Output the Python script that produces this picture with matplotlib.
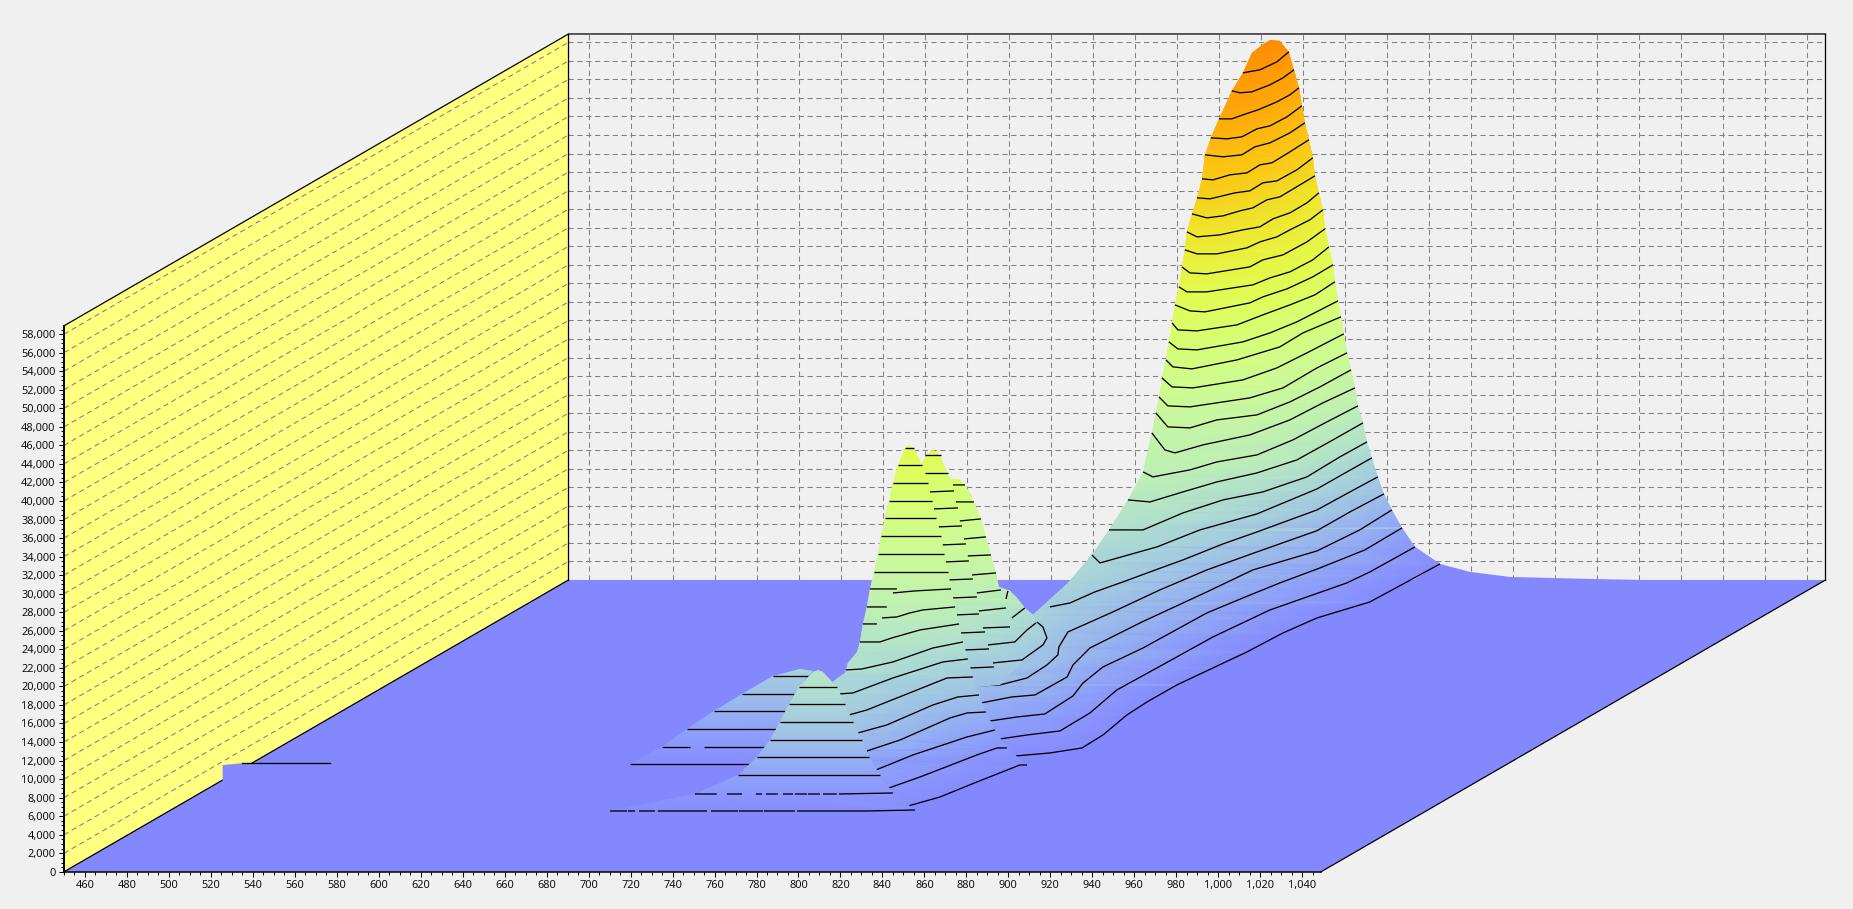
import numpy as np
import matplotlib
matplotlib.use("Agg")
import matplotlib.pyplot as plt
import matplotlib.tri as mtri
from matplotlib.colors import LinearSegmentedColormap
from matplotlib.path import Path
from matplotlib.ticker import MultipleLocator, StrMethodFormatter

nan = np.nan

x_min, x_max = 450, 1049
y_max = 58900
# how far the back of the box is shifted from the front, in axis units
depth_x = 240.4
depth_y = 31480

# colours along the contour number
stop_levels = [0, 1, 3, 5, 7, 8, 10, 13, 16, 19, 22, 25, 28, 31]
stop_colors = ["#8488ff", "#878cff", "#8fa3fa", "#9ec0e8", "#aad7d7", "#b2e1cd", "#bef0b4",
               "#cdfa96", "#d7ff73", "#e4fa4b", "#f0e62d", "#fac814", "#ffaa0a", "#ff8c00"]

# step on the floor edge
step_wave = [525.6, 525.6, 528.6, 534.7, 541.0, 541.0]
step_height = [9720, 11522, 11578, 11708, 11708, 9720]
step_line_wave = [534.7, 576.7]
step_line_height = [11708, 11708]

# flat tail right of the big ridge
tail_wave = [1105.7, 1120.0, 1139.0, 1177.1, 1200.5, 1077.1]
tail_height = [33212, 32349, 31810, 31594, 31487, 29327]

# big ridge at the back, contours 1 to 30
ridge_levels = list(range(1, 31))
ridge_waves = [
    [903.2, 919.8, 935.1, 945.1, 956.5, 966.1, 980.3, 997.5, 1013.7, 1030.9, 1047.1, 1072.3, 1096.1, 1105.7],
    [896.0, 908.9, 924.6, 938.9, 951.7, 970.8, 997.5, 1024.7, 1061.3, 1072.3, 1093.8],
    [891.2, 904.1, 917.4, 930.8, 935.6, 945.1, 964.2, 994.6, 1011.8, 1029.4, 1048.5, 1069.9, 1087.6],
    [887.0, 901.7, 912.7, 928.0, 930.8, 938.9, 963.7, 994.6, 1016.5, 1047.1, 1067.5, 1082.8],
    [884.1, 896.0, 908.9, 918.4, 923.6, 924.1, 928.4, 949.8, 972.2, 994.6, 1018.5, 1047.1, 1062.8, 1079.0],
    [919.8, 929.4, 941.2, 954.6, 967.5, 983.2, 1002.3, 1018.5, 1047.1, 1062.8, 1076.1],
    [939.8, 943.7, 970.8, 991.3, 1018.5, 1047.1, 1058.0, 1073.2],
    [948.0, 964.2, 983.2, 1002.3, 1021.3, 1042.3, 1058.0, 1070.9],
    [957.0, 967.5, 983.2, 999.4, 1018.5, 1037.5, 1054.7, 1069.0],
    [964.2, 968.9, 986.5, 999.4, 1018.5, 1035.6, 1051.8, 1066.6],
    [968.4, 974.6, 979.4, 992.7, 1015.1, 1034.2, 1049.9, 1065.2],
    [970.3, 976.0, 986.5, 999.4, 1018.5, 1034.2, 1048.5, 1063.3],
    [971.8, 976.0, 986.5, 1015.1, 1030.9, 1047.1, 1061.4],
    [973.2, 978.0, 988.0, 1011.8, 1028.0, 1042.3, 1059.9],
    [975.1, 978.4, 987.5, 1009.0, 1029.4, 1040.4, 1058.5],
    [976.5, 980.8, 989.9, 1011.8, 1024.7, 1037.5, 1057.1],
    [978.0, 980.8, 989.9, 1009.0, 1021.3, 1034.2, 1046.1, 1055.6],
    [979.4, 986.5, 993.7, 1015.1, 1021.3, 1032.8, 1045.1, 1054.7],
    [981.3, 985.1, 994.6, 1016.5, 1024.7, 1034.2, 1045.1, 1052.8],
    [982.7, 986.5, 994.6, 1015.1, 1021.3, 1030.9, 1042.3, 1050.9],
    [984.1, 989.9, 999.4, 1013.7, 1019.9, 1028.0, 1034.2, 1043.7, 1049.9],
    [985.1, 989.9, 1000.8, 1011.8, 1019.9, 1026.1, 1034.2, 1042.3, 1048.0],
    [987.5, 994.6, 1002.3, 1010.4, 1016.5, 1023.2, 1029.4, 1039.0, 1046.1],
    [989.9, 996.1, 1008.0, 1015.1, 1021.3, 1028.0, 1037.5, 1045.1],
    [992.3, 997.5, 1005.6, 1013.7, 1019.9, 1025.6, 1034.2, 1043.2],
    [993.7, 1002.3, 1011.3, 1017.5, 1024.7, 1034.2, 1041.3],
    [996.5, 1004.2, 1011.3, 1018.5, 1024.7, 1032.8, 1039.9],
    [1000.4, 1006.5, 1011.8, 1019.0, 1028.0, 1034.2, 1038.5],
    [1006.5, 1010.4, 1016.1, 1024.7, 1030.9, 1036.1],
    [1011.8, 1019.9, 1028.0, 1033.7],
]
ridge_heights = [
    [12495, 12819, 13358, 14761, 16919, 18322, 20156, 21990, 23717, 25767, 27386, 29112, 32025, 33212],
    [14330, 14761, 15192, 17134, 19616, 21990, 25335, 28248, 31162, 32349, 35046],
    [16271, 16702, 17026, 18968, 20371, 22097, 24147, 27924, 29543, 31162, 32780, 34722, 37096],
    [18214, 18861, 19076, 21018, 22313, 24147, 26953, 30190, 32564, 34615, 36881, 39039],
    [20046, 20154, 20910, 22313, 23392, 24255, 25873, 28032, 30406, 32564, 34507, 36801, 38823, 40765],
    [28571, 29003, 30190, 31269, 32349, 33643, 35370, 36663, 39039, 40981, 42602],
    [34183, 33320, 35046, 36881, 38608, 41304, 42707, 44649],
    [36881, 36881, 38713, 40117, 40981, 42602, 44757, 46376],
    [40117, 39900, 40981, 42060, 43030, 44430, 46590, 48425],
    [43138, 42602, 43354, 44217, 44972, 46590, 48533, 50260],
    [47346, 45512, 45190, 46050, 47130, 48750, 50585, 52202],
    [49505, 47994, 47886, 48750, 49289, 50692, 52310, 54145],
    [51230, 50260, 50152, 51122, 52202, 54360, 55980],
    [53280, 52310, 52202, 53065, 54360, 55980, 58030],
    [55223, 54468, 54252, 55223, 56625, 58136, 59863],
    [57165, 56410, 56302, 57165, 58136, 59323, 61590],
    [59216, 58460, 58352, 59000, 60078, 61157, 62236, 63640],
    [61157, 60510, 60402, 61373, 62020, 62884, 64178, 65473],
    [63100, 62560, 62560, 63315, 64070, 64720, 66013, 67416],
    [65258, 64610, 64502, 65258, 66013, 66552, 67955, 69358],
    [67092, 66660, 66660, 67308, 67955, 68495, 69250, 70330, 71408],
    [69034, 68495, 68710, 69250, 69574, 70437, 71085, 72163, 73242],
    [70976, 70545, 70760, 71300, 71624, 72487, 72810, 74105, 75077],
    [72703, 72595, 73242, 73458, 74322, 74537, 75725, 77018],
    [74753, 74645, 75185, 75400, 76263, 76479, 77666, 78961],
    [77342, 77127, 77342, 78206, 78637, 79716, 80795],
    [79177, 79069, 79285, 80148, 80472, 81443, 82630],
    [81227, 81227, 81658, 82198, 83061, 83816, 84572],
    [84248, 84032, 84140, 84896, 85651, 86514],
    [86190, 86514, 87377, 88456],
]
# rounded top, right to left
ridge_top_wave = [1029.4, 1024.7, 1020.9, 1016.1]
ridge_top_height = [89643, 89751, 89211, 88348]
ridge_top_level = [31, 31, 31, 30.5]
# valley beside the ridge, then down behind the body
ridge_valley_wave = [928.4, 911.7, 867.4, 876.9]
ridge_valley_height = [31162, 27709, 20695, 14220]
ridge_valley_level = [7, 6.8, 6, 2]

# peaks behind the tall one, pieces split by nan
mid_levels = [18, 17, 16, 15, 14, 13, 12, 11, 10, 9, 8, 7, 6]
mid_waves = [
    [860.3, 867.9],
    [860.3, 871.2],
    [862.6, 874.1, nan, 873.6, 879.3],
    [864.5, 876.0, nan, 875.0, 883.6],
    [866.5, 877.9, nan, 876.9, 886.9],
    [868.4, 879.8, nan, 878.9, 889.3],
    [869.8, 881.2, nan, 880.7, 891.7],
    [871.7, 883.1, nan, 882.7, 894.1],
    [873.1, 885.0, nan, 885.0, 896.5, nan, 898.9, 899.8],
    [875.0, 886.0, nan, 886.0, 898.9],
    [877.4, 888.9, nan, 887.9, 900.8, nan, 901.7, 907.9],
    [879.3, 890.8, nan, 890.3, 903.1, 908.9, 913.2],
    [881.7, 893.1, nan, 892.7, 906.5, 916.5, 918.4, 916.5, 913.6],
]
mid_heights = [
    [44973, 44973],
    [43030, 43030],
    [40981, 41089, 41089, 41735, 41735],
    [39146, 39254, 39254, 39900, 39900],
    [37203, 37311, 37311, 37850, 38066],
    [35261, 35370, 35370, 35909, 36125],
    [33427, 33535, 33535, 34074, 34183],
    [31485, 31593, 31593, 32024, 32240],
    [29542, 29651, 29651, 30082, 30406, 30406, 29435, 30298],
    [27709, 27817, 27817, 28140, 28464],
    [25767, 25875, 25875, 26306, 26414, 26414, 27385, 28464],
    [23932, 24040, 24040, 24472, 24795, 26090, 26845],
    [21989, 22097, 22097, 22530, 22853, 24472, 25227, 26414, 26953],
]
mid_edge_wave = [858.8, 861.2, 864.1, 866.0, 867.9, 869.8, 872.2, 874.6, 876.9, 879.3, 881.7, 883.6,
                 886.9, 889.3, 891.7, 894.1, 895.5, 900.8, 904.1, 907.9, 911.7, 913.6, 918.9, 918.9,
                 906.5, 896.0, 872.2, 848.4]
mid_edge_height = [44109, 44973, 45512, 45296, 44649, 43570, 42383, 42383, 42275, 41735, 40872, 39900,
                   38066, 36125, 34183, 32240, 30729, 30298, 29542, 28464, 27709, 26953, 25443, 24795,
                   22637, 20154, 19616, 29327]
mid_edge_level = [17.5, 18.5, 19, 18.7, 18, 17, 16.6, 17, 17, 16, 15.5, 15,
                  14, 13, 12, 11, 10, 9.5, 9, 8, 7.5, 7, 6.5, 6,
                  6, 5, 5, 10]

# tall peak and the slope in front of it
body_levels = list(range(1, 20))
body_waves = [
    [852.2, 867.4, 885.0, 905.5, 908.9],
    [843.1, 857.9, 885.0, 894.6, 899.3],
    [836.9, 854.5, 880.3, 893.6],
    [832.6, 848.4, 872.2, 880.3, 889.3],
    [828.3, 842.1, 864.1, 876.0, 886.0],
    [824.0, 832.6, 856.5, 870.8, 883.1],
    [819.3, 825.9, 845.0, 868.8, 880.7],
    [822.6, 830.2, 845.0, 864.1, 878.4],
    [830.7, 837.4, nan, 829.3, 838.8, 844.5, 857.9, 876.5],
    [832.6, 842.1, nan, 839.8, 846.9, 853.1, 859.3, 874.6],
    [834.1, 846.9, nan, 845.0, 855.5, 872.7],
    [836.0, 871.2],
    [837.9, 869.3],
    [839.3, 867.9],
    [841.2, 865.5],
    [843.1, 863.6],
    [845.0, 861.7],
    [847.4, 858.8],
    [850.7, 855.0],
]
body_heights = [
    [7096, 8069, 9689, 11523, 11523],
    [9041, 10227, 12603, 13358, 13358],
    [10983, 12603, 14545, 15300],
    [13033, 14220, 16595, 17134, 17242],
    [14976, 15840, 18000, 18861, 19076],
    [16919, 17458, 19616, 20910, 21018],
    [19185, 19292, 20910, 22637, 22961],
    [21774, 21882, 22637, 24147, 24795],
    [26737, 26737, 26737, 24795, 24795, 25227, 26090, 26737],
    [28571, 28571, 28571, 27385, 27493, 27925, 28248, 28571],
    [30514, 30514, 30514, 30082, 30298, 30514],
    [32349, 32349],
    [34290, 34290],
    [36231, 36231],
    [38173, 38173],
    [40009, 40009],
    [41952, 41952],
    [43893, 43893],
    [45728, 45728],
]
body_top_wave = [852.6]
body_top_height = [45943]
body_top_level = [19.6]
# left side below contour 9, down to the hidden part
body_left_wave = [829.3, 827.9, 823.6, 822.2, 818.8, 816.4, 819.8]
body_left_height = [24795, 23716, 22530, 21450, 20910, 20478, 12063]
body_left_level = [8.5, 8, 8, 7.5, 7, 7, 3]

# small peak at the front
front_levels = list(range(1, 9))
front_waves = [
    [710.2, 718.3, nan, 718.7, 722.1, nan, 724.0, 731.6, nan, 733.0, 756.4, nan, 758.3, 771.2, nan,
     771.6, 783.1, nan, 783.5, 798.3, nan, 799.3, 832.6, 855.5],
    [750.7, 761.1, nan, 765.9, 773.1, nan, 779.7, 782.6, nan, 784.5, 790.2, nan, 792.6, 797.4, nan,
     798.3, 804.0, nan, 804.5, 810.2, nan, 811.7, 818.3, nan, 819.3, 845.0],
    [771.2, 838.8],
    [780.2, 833.6],
    [786.4, 830.2],
    [791.2, 825.9],
    [795.5, 822.1],
    [800.2, 818.3],
]
front_heights = [
    [6560] * 23 + [6668],
    [8394] * 25 + [8502],
    [10445, 10445],
    [12387, 12387],
    [14220, 14220],
    [16163, 16163],
    [18105, 18105],
    [19939, 19939],
]
front_top_wave = [811.7, 809.3, 806.9]
front_top_height = [21558, 21774, 21558]
front_top_level = [8.7, 9, 8.7]

# wide shoulder left of the small peak
shoulder_levels = list(range(1, 7))
shoulder_waves = [
    [719.7, 777.4],
    [734.9, 748.3, nan, 754.9, 784.5],
    [746.9, 789.7],
    [759.7, 794.0],
    [773.1, 797.8],
    [787.8, 804.5],
]
shoulder_heights = [
    [11631, 11631],
    [13467, 13467, 13467, 13467, 13467],
    [15409, 15409],
    [17346, 17346],
    [19185, 19185],
    [21128, 21128],
]
shoulder_top_wave = [806.9, 800.7]
shoulder_top_height = [21666, 21882]
shoulder_top_level = [7, 7]


def draw_layer(edge_w, edge_h, edge_l, waves, heights, levels, z):
    # node values come from the contours and the edge, then a smooth fill clipped to the edge
    nw = list(edge_w)
    nh = list(edge_h)
    nl = list(edge_l)
    for w, h, lev in zip(waves, heights, levels):
        for a, b in zip(w, h):
            if not np.isnan(a):
                nw.append(a)
                nh.append(b)
                nl.append(lev)
    pts = np.column_stack([nw, nh])
    _, idx = np.unique(pts, axis=0, return_index=True)
    idx = np.sort(idx)
    tri = mtri.Triangulation(pts[idx, 0], pts[idx, 1])
    coll = ax.tripcolor(tri, np.array(nl)[idx], shading="gouraud", cmap=level_cmap,
                        vmin=0, vmax=31, zorder=z)
    verts = np.column_stack([edge_w + edge_w[:1], edge_h + edge_h[:1]])
    coll.set_clip_path(Path(verts), ax.transData)
    coll.set_clip_box(fig.bbox)
    for w, h in zip(waves, heights):
        ax.plot(w, h, color="black", lw=0.95, zorder=z + 0.5, clip_on=False,
                solid_capstyle="butt")


def peak_edge(waves, heights, levels, top_w, top_h, top_l):
    # lowest contour, right ends upward, top, left ends downward
    ew = list(waves[0])
    eh = list(heights[0])
    el = [levels[0]] * len(ew)
    for w, h, lev in zip(waves[1:], heights[1:], levels[1:]):
        ew.append(w[-1])
        eh.append(h[-1])
        el.append(lev)
    ew += top_w
    eh += top_h
    el += top_l
    for w, h, lev in zip(waves[:0:-1], heights[:0:-1], levels[:0:-1]):
        ew.append(w[0])
        eh.append(h[0])
        el.append(lev)
    return ew, eh, el


plt.rcParams["font.family"] = ["Noto Sans", "DejaVu Sans"]
level_cmap = LinearSegmentedColormap.from_list(
    "levels", [(s / 31, c) for s, c in zip(stop_levels, stop_colors)])

fig = plt.figure(figsize=(18.53, 9.09), dpi=100, facecolor="#f0f0f0")
ax = fig.add_axes([64 / 1853, 37.2 / 909, 1257 / 1853, 546.0 / 909])
ax.set_xlim(x_min, x_max)
ax.set_ylim(0, y_max)
ax.patch.set_visible(False)

floor_color = "#8488ff"
wall_color = "#ffff80"
grid = dict(color="#808080", lw=0.75, ls=(0, (5, 3.5)), clip_on=False)
edge = dict(color="black", lw=0.9, clip_on=False)

y_ticks = np.arange(0, 58001, 2000)
x_ticks = np.arange(460, 1041, 20)

# back wall grid
for v in y_ticks[1:]:
    ax.plot([x_min + depth_x, x_max + depth_x], [v + depth_y, v + depth_y], zorder=1, **grid)
for t in x_ticks:
    ax.plot([t + depth_x, t + depth_x], [depth_y, y_max + depth_y], zorder=1, **grid)

# left wall and floor
ax.fill([x_min, x_min + depth_x, x_min + depth_x, x_min],
        [0, depth_y, y_max + depth_y, y_max], color=wall_color, lw=0, zorder=1.5, clip_on=False)
for v in y_ticks[1:]:
    ax.plot([x_min, x_min + depth_x], [v, v + depth_y], zorder=1.6, **grid)
ax.fill([x_min, x_max, x_max + depth_x, x_min + depth_x], [0, 0, depth_y, depth_y],
        color=floor_color, lw=0, zorder=2, clip_on=False)

# box outline
ax.plot([x_min, x_min + depth_x], [0, depth_y], zorder=2.2, **edge)
ax.plot([x_max, x_max + depth_x], [0, depth_y], zorder=2.2, **edge)
ax.plot([x_min + depth_x, x_min + depth_x], [depth_y, y_max + depth_y], zorder=2.2, **edge)
ax.plot([x_max + depth_x, x_max + depth_x], [depth_y, y_max + depth_y], zorder=2.2, **edge)
ax.plot([x_min, x_min + depth_x, x_max + depth_x], [y_max, y_max + depth_y, y_max + depth_y],
        zorder=2.2, **edge)

# small step and its line
ax.fill(step_wave, step_height, color=floor_color, lw=0, zorder=2.4, clip_on=False)
ax.plot(step_line_wave, step_line_height, color="black", lw=0.95, zorder=2.5, clip_on=False)
ax.fill(tail_wave, tail_height, color=floor_color, lw=0, zorder=2.6, clip_on=False)

# big ridge: front contour, right ends, top, left ends down to contour 7, valley
ridge_edge_w = list(ridge_waves[0])
ridge_edge_h = list(ridge_heights[0])
ridge_edge_l = [1] * len(ridge_edge_w)
for w, h, lev in zip(ridge_waves[1:], ridge_heights[1:], ridge_levels[1:]):
    ridge_edge_w.append(w[-1])
    ridge_edge_h.append(h[-1])
    ridge_edge_l.append(lev)
ridge_edge_w += ridge_top_wave
ridge_edge_h += ridge_top_height
ridge_edge_l += ridge_top_level
for w, h, lev in zip(ridge_waves[:5:-1], ridge_heights[:5:-1], ridge_levels[:5:-1]):
    if lev >= 7:
        ridge_edge_w.append(w[0])
        ridge_edge_h.append(h[0])
        ridge_edge_l.append(lev)
ridge_edge_w += ridge_valley_wave
ridge_edge_h += ridge_valley_height
ridge_edge_l += ridge_valley_level
draw_layer(ridge_edge_w, ridge_edge_h, ridge_edge_l, ridge_waves, ridge_heights, ridge_levels, 3)

draw_layer(mid_edge_wave, mid_edge_height, mid_edge_level, mid_waves, mid_heights, mid_levels, 4)

# tall peak
body_edge_w = list(body_waves[0])
body_edge_h = list(body_heights[0])
body_edge_l = [1] * len(body_edge_w)
for w, h, lev in zip(body_waves[1:], body_heights[1:], body_levels[1:]):
    body_edge_w.append(w[-1])
    body_edge_h.append(h[-1])
    body_edge_l.append(lev)
body_edge_w += body_top_wave
body_edge_h += body_top_height
body_edge_l += body_top_level
for w, h, lev in zip(body_waves[:7:-1], body_heights[:7:-1], body_levels[:7:-1]):
    body_edge_w.append(w[0])
    body_edge_h.append(h[0])
    body_edge_l.append(lev)
body_edge_w += body_left_wave
body_edge_h += body_left_height
body_edge_l += body_left_level
draw_layer(body_edge_w, body_edge_h, body_edge_l, body_waves, body_heights, body_levels, 5)

# shoulder goes behind the small peak
sw, sh, sl = peak_edge(shoulder_waves, shoulder_heights, shoulder_levels,
                       shoulder_top_wave, shoulder_top_height, shoulder_top_level)
draw_layer(sw, sh, sl, shoulder_waves, shoulder_heights, shoulder_levels, 4.7)

fw, fh, fl = peak_edge([[w for w in front_waves[0] if not np.isnan(w)]] + front_waves[1:],
                       [[h for w, h in zip(front_waves[0], front_heights[0]) if not np.isnan(w)]] + front_heights[1:],
                       front_levels, front_top_wave, front_top_height, front_top_level)
draw_layer(fw, fh, fl, front_waves, front_heights, front_levels, 6)

# axes
for s in ["top", "right"]:
    ax.spines[s].set_visible(False)
ax.spines["left"].set_linewidth(1.4)
ax.spines["bottom"].set_linewidth(1.1)
for s in ax.spines.values():
    s.set_zorder(8)
ax.set_xticks(x_ticks)
ax.set_yticks(y_ticks)
ax.xaxis.set_minor_locator(MultipleLocator(5))
ax.yaxis.set_minor_locator(MultipleLocator(500))
ax.xaxis.set_major_formatter(StrMethodFormatter("{x:,.0f}"))
ax.yaxis.set_major_formatter(StrMethodFormatter("{x:,.0f}"))
ax.tick_params(axis="both", which="major", length=3.6, width=0.75, labelsize=7.9, pad=2.5,
               labelcolor="#101010")
ax.tick_params(axis="both", which="minor", length=2, width=0.75)

fig.savefig("out.png", dpi=100, facecolor=fig.get_facecolor())
